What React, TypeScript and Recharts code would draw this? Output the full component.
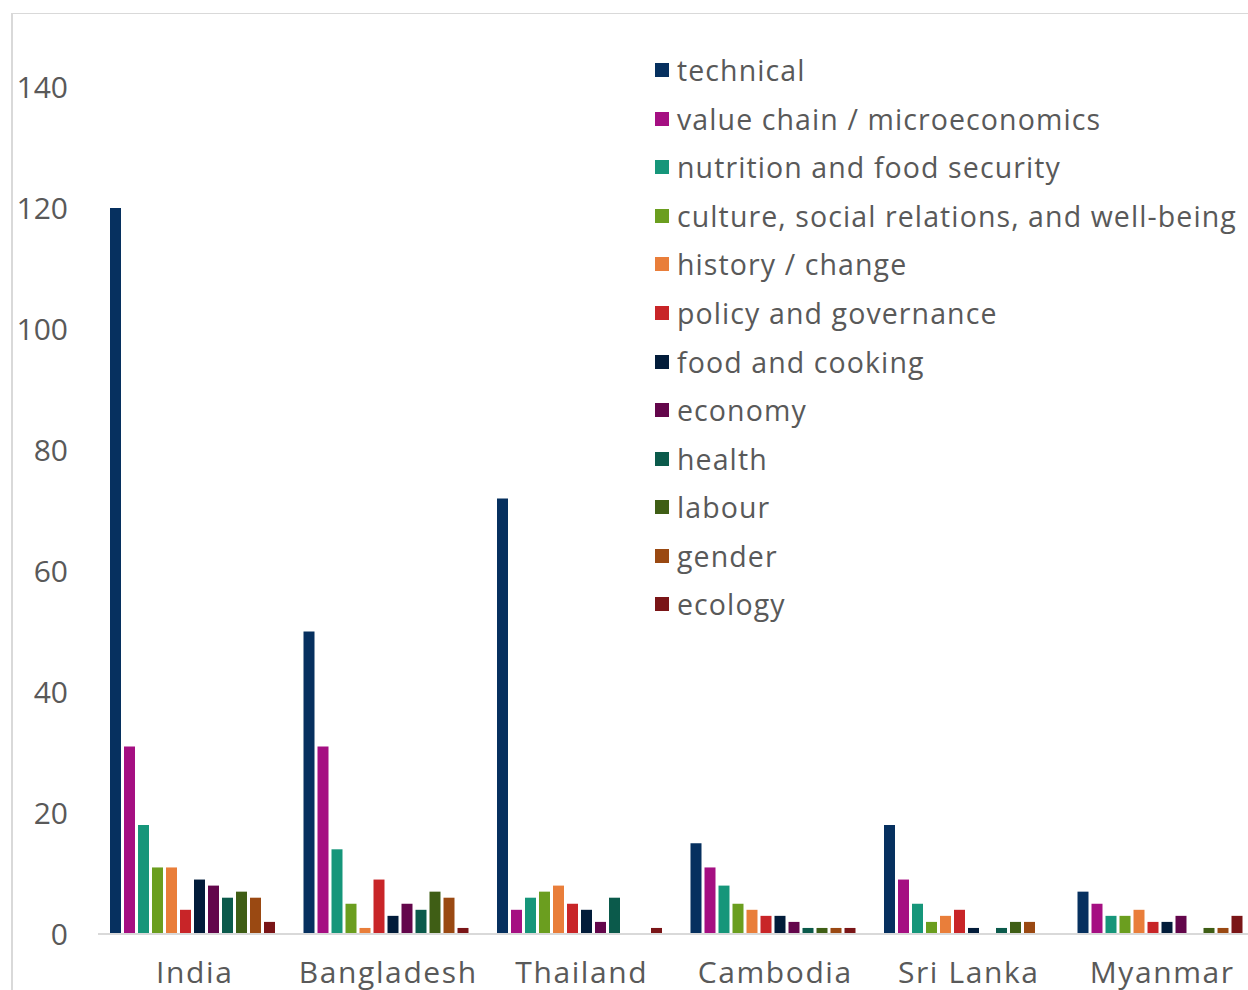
import React from "react";
import { BarChart, Bar, XAxis, YAxis, Legend } from "recharts";

const countries = ["India", "Bangladesh", "Thailand", "Cambodia", "Sri Lanka", "Myanmar"];
const seriesNames = [
  "technical",
  "value chain / microeconomics",
  "nutrition and food security",
  "culture, social relations, and well-being",
  "history / change",
  "policy and governance",
  "food and cooking",
  "economy",
  "health",
  "labour",
  "gender",
  "ecology",
];
const seriesColors = [
  "#06305F", "#A50F82", "#16967A", "#6B9E1F", "#E97E3A", "#C82528",
  "#021C3A", "#63064B", "#0B5A4B", "#3F5E15", "#9A4912", "#7A1517",
];
// values per series, in country order
const technical = [120, 50, 72, 15, 18, 7];
const valueChain = [31, 31, 4, 11, 9, 5];
const nutrition = [18, 14, 6, 8, 5, 3];
const culture = [11, 5, 7, 5, 2, 3];
const history = [11, 1, 8, 4, 3, 4];
const policy = [4, 9, 5, 3, 4, 2];
const foodCooking = [9, 3, 4, 3, 1, 2];
const economy = [8, 5, 2, 2, 0, 3];
const health = [6, 4, 6, 1, 1, 0];
const labour = [7, 7, 0, 1, 2, 1];
const gender = [6, 6, 0, 1, 2, 1];
const ecology = [2, 1, 1, 1, 0, 3];
const yTicks = [0, 20, 40, 60, 80, 100, 120, 140];

const seriesValues = [technical, valueChain, nutrition, culture, history, policy, foodCooking, economy, health, labour, gender, ecology];
const keys = seriesNames.map((_, i) => "s" + i);

const data = countries.map((c, ci) => {
  const row: Record<string, any> = { country: c };
  keys.forEach((k, si) => {
    row[k] = seriesValues[si][ci];
  });
  return row;
});

const FONT = "'Open Sans', sans-serif";
const TEXT = "#595959";

function LegendContent() {
  return (
    <div style={{ fontFamily: FONT }}>
      {seriesNames.map((n, i) => (
        <div key={n} style={{ height: 48.55, display: "flex", alignItems: "center" }}>
          <span style={{ width: 14, height: 14, background: seriesColors[i], display: "inline-block", marginRight: 8, flex: "none" }} />
          <span style={{ fontSize: 28.5, letterSpacing: 1.1, color: TEXT, whiteSpace: "nowrap", lineHeight: "30px" }}>{n}</span>
        </div>
      ))}
    </div>
  );
}

export default function App() {
  return (
    <div style={{ position: "fixed", left: 0, top: 0, width: 1248, height: 990, overflow: "hidden", background: "#fff" }}>
      <div style={{ position: "absolute", left: 11, top: 13, width: 1400, height: 1200, borderLeft: "2px solid #d9d9d9", borderTop: "1px solid #d9d9d9" }} />
      <div style={{ position: "absolute", left: 0, top: 0 }}>
        <BarChart
          width={1300}
          height={1100}
          data={data}
          margin={{ top: 87, right: 41, left: 0, bottom: 106 }}
          barCategoryGap={12}
          barGap={3}
        >
          <XAxis
            dataKey="country"
            height={60}
            axisLine={{ stroke: "#d9d9d9", strokeWidth: 2 }}
            tickLine={false}
            tickMargin={22}
            tick={{ fill: TEXT, fontSize: 30, fontFamily: FONT, letterSpacing: 1.6 }}
            interval={0}
          />
          <YAxis
            width={98}
            domain={[0, 140]}
            ticks={yTicks}
            axisLine={false}
            tickLine={false}
            tickSize={0}
            tickMargin={30}
            tick={{ fill: TEXT, fontSize: 30, fontFamily: FONT }}
          />
          <Legend
            layout="vertical"
            verticalAlign="middle"
            align="center"
            content={<LegendContent />}
            wrapperStyle={{ left: 655, top: 46, width: 600 }}
          />
          {keys.map((k, i) => (
            <Bar key={k} dataKey={k} name={seriesNames[i]} fill={seriesColors[i]} isAnimationActive={false} />
          ))}
        </BarChart>
      </div>
    </div>
  );
}
